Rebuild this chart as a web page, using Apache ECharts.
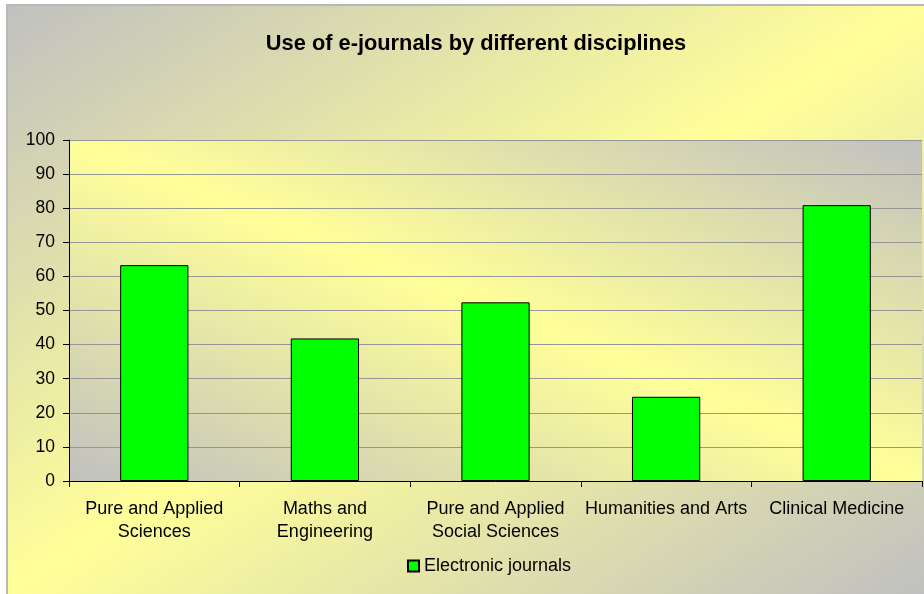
<!DOCTYPE html>
<html><head><meta charset="utf-8">
<script src="https://cdn.jsdelivr.net/npm/echarts@6/dist/echarts.min.js"></script>
<style>html,body{margin:0;padding:0;background:#fff}#c{width:924px;height:594px}</style>
</head><body><div id="c"></div>
<script>
var categories = ['Pure and Applied\nSciences', 'Maths and\nEngineering', 'Pure and Applied\nSocial Sciences', 'Humanities and Arts', 'Clinical Medicine'];
var seriesName = 'Electronic journals';
var values = [63.3, 41.8, 52.4, 24.7, 80.9];
var yTicks = {min: 0, max: 100, interval: 10};

var chart = echarts.init(document.getElementById('c'));
var font = 'Liberation Sans, Arial, sans-serif';
var gray = '#c0c0c0', yellow = '#ffff99';
chart.setOption({
  animation: false,
  backgroundColor: '#ffffff',
  graphic: [{
    type: 'rect', z: -10, silent: true,
    shape: {x: 7, y: 5, width: 930, height: 600},
    style: {
      fill: new echarts.graphic.LinearGradient(7, 5, 7 + 535.7, 5 + 833.9, [
        {offset: 0, color: gray}, {offset: 0.5, color: yellow}, {offset: 1, color: gray}
      ], true),
      stroke: '#b8b8b8', lineWidth: 2
    }
  }],
  title: {
    text: 'Use of e-journals by different disciplines',
    left: 471, top: 28, textAlign: 'center',
    textStyle: {fontFamily: font, fontWeight: 'bold', fontSize: 21.8, color: '#000'}
  },
  legend: {
    data: [seriesName], left: 402, top: 552,
    itemWidth: 11, itemHeight: 11, itemGap: 6,
    icon: 'rect',
    textStyle: {fontFamily: font, fontSize: 18, color: '#000', padding: [0, 0, 0, 0]}
  },
  grid: {
    left: 69, right: 2, top: 140, bottom: 113, show: true,
    borderWidth: 0,
    backgroundColor: new echarts.graphic.LinearGradient(69, 481, 69 + 235.1, 481 - 588.0, [
      {offset: 0, color: gray}, {offset: 0.5, color: yellow}, {offset: 1, color: gray}
    ], true)
  },
  xAxis: {
    type: 'category', data: categories,
    axisLine: {lineStyle: {color: '#000', width: 1}},
    axisTick: {show: true, length: 6, lineStyle: {color: '#000'}},
    axisLabel: {fontFamily: font, fontSize: 18, color: '#000', margin: 17, lineHeight: 23, interval: 0}
  },
  yAxis: {
    type: 'value', min: yTicks.min, max: yTicks.max, interval: yTicks.interval,
    axisLine: {show: true, lineStyle: {color: '#000', width: 1}},
    axisTick: {show: true, length: 6, lineStyle: {color: '#000'}},
    axisLabel: {fontFamily: font, fontSize: 17.5, color: '#000', margin: 14},
    splitLine: {lineStyle: {color: '#969696', width: 1}}
  },
  series: [{
    name: seriesName, type: 'bar', data: values, barWidth: '40%',
    itemStyle: {color: '#00ff00', borderColor: '#000', borderWidth: 1}
  }]
});
</script></body></html>
